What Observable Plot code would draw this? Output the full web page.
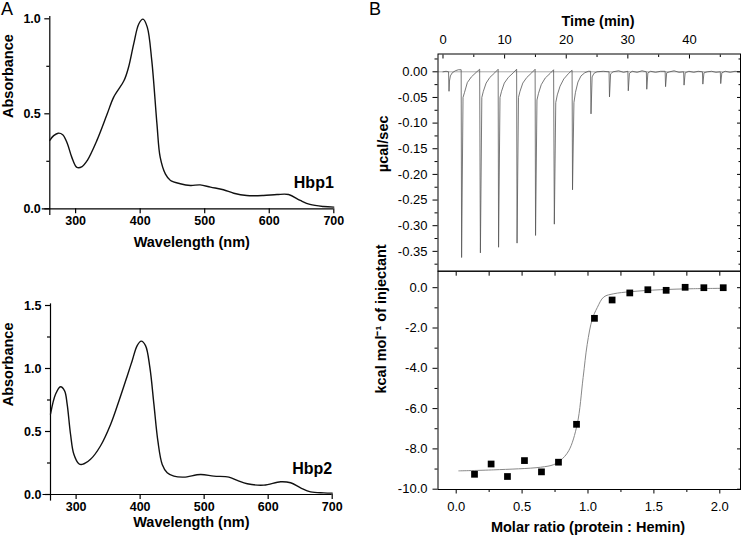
<!DOCTYPE html>
<html><head><meta charset="utf-8">
<script src="https://cdn.jsdelivr.net/npm/d3@7"></script>
<script src="https://cdn.jsdelivr.net/npm/@observablehq/plot@0.6"></script>
<style>
body{margin:0;background:#fff;}
#wrap{position:relative;width:745px;height:539px;overflow:hidden;font-family:"Liberation Sans",Arial,sans-serif;background:#fff;}
#wrap svg{position:absolute;left:0;top:0;}
.lbl{position:absolute;font-size:18px;line-height:1;font-family:"Liberation Sans",Arial,sans-serif;}
</style></head><body>
<div id="wrap"><span class="lbl" style="left:1px;top:0px">A</span><span class="lbl" style="left:369px;top:0px">B</span></div>
<script>
// ---- Panel A (top): Hbp1 absorbance spectrum ----
const hbp1Wl  = [260,266,273,280,287,294,302,310,318,333,349,359,375,382,390,398,404.5,411,418,426,431,439,447,462,478,493,509,529,545,565,591,612,630,648,663,684,700];
const hbp1Abs = [0.360,0.385,0.398,0.390,0.345,0.272,0.218,0.222,0.254,0.360,0.500,0.588,0.675,0.745,0.868,0.974,0.998,0.956,0.780,0.447,0.272,0.184,0.149,0.132,0.123,0.126,0.114,0.100,0.082,0.070,0.070,0.075,0.075,0.044,0.023,0.012,0.009];
// ---- Panel A (bottom): Hbp2 absorbance spectrum ----
const hbp2Wl  = [260,268,275.6,282,286,291.3,296.5,304.3,309.5,322.5,338,354,367,380,387.6,395.4,401.7,408.4,415.2,421.5,427.7,434.5,442.3,452.7,468.3,494.4,515.2,538.6,551.7,567.3,593.3,619.4,635,650.6,666.3,687,700];
const hbp2Abs = [0.637,0.797,0.855,0.823,0.717,0.478,0.319,0.244,0.239,0.279,0.385,0.558,0.744,0.943,1.062,1.182,1.217,1.182,1.009,0.717,0.425,0.239,0.173,0.146,0.138,0.159,0.146,0.138,0.112,0.085,0.074,0.101,0.093,0.053,0.021,0.013,0.011];

// ---- Panel B (top): raw ITC trace ----
const itcTime = [
0,0.5,0.9,0.98,1.05,1.2,1.5,2.0,2.5,2.95,
3.02,3.25,3.5,3.95,4.6,5.4,5.95,
6.07,6.3,6.55,7.0,7.6,8.4,8.95,
9.02,9.25,9.5,9.95,10.6,11.4,11.95,
12.02,12.25,12.5,12.95,13.6,14.4,14.95,
15.02,15.25,15.5,15.95,16.6,17.4,17.95,
18.07,18.3,18.55,19.0,19.6,20.4,20.95,
21.02,21.25,21.5,21.9,22.4,23.0,23.6,23.95,
24.02,24.2,24.5,25.0,26.0,26.95,
27.02,27.2,27.6,28.5,29.3,30.0,
30.07,30.25,30.7,31.5,32.3,33.0,
33.07,33.25,33.7,34.5,35.3,36.05,
36.12,36.3,36.8,37.5,38.3,39.05,
39.12,39.3,39.9,40.7,41.4,42.1,
42.17,42.35,42.9,43.6,44.3,45.0,
45.07,45.25,45.8,46.6,47.4,48.1];
const itcPower = [
0,0.001,0,-0.038,-0.018,-0.008,-0.002,0.002,0.004,0.004,
-0.362,-0.05,-0.04,-0.021,-0.010,-0.001,0.005,
-0.353,-0.05,-0.038,-0.022,-0.011,-0.002,0.005,
-0.342,-0.05,-0.038,-0.022,-0.011,-0.002,0.005,
-0.334,-0.05,-0.038,-0.022,-0.011,-0.002,0.005,
-0.319,-0.055,-0.042,-0.025,-0.012,-0.003,0.004,
-0.297,-0.06,-0.045,-0.028,-0.014,-0.003,0.003,
-0.230,-0.06,-0.04,-0.02,-0.008,-0.002,0.001,0.001,
-0.082,-0.01,-0.003,0.0,0.001,0.0,
-0.049,-0.004,0.0,0.002,-0.001,0.001,
-0.037,-0.003,0.001,-0.001,0.002,0.0,
-0.034,-0.002,0.001,-0.001,0.001,0.001,
-0.029,-0.002,0.0,0.002,-0.001,0.0,
-0.026,-0.002,0.001,-0.001,0.001,0.0,
-0.024,-0.002,0.0,0.001,-0.001,0.0,
-0.023,-0.002,0.001,-0.001,0.001,0.0];

// ---- Panel B (bottom): integrated heats and fit ----
const molarRatio = [0.139,0.265,0.389,0.518,0.647,0.776,0.913,1.049,1.183,1.317,1.454,1.593,1.737,1.879,2.026];
const heat       = [-9.26,-8.75,-9.37,-8.58,-9.14,-8.66,-6.78,-1.52,-0.61,-0.26,-0.10,-0.13,0.02,0.0,0.0];
const fitRatio = [0.02,0.285,0.64,0.74,0.79,0.854,0.918,0.963,0.994,1.032,1.07,1.12,1.196,1.32,1.55,1.80,2.03];
const fitHeat  = [-9.09,-9.04,-8.91,-8.78,-8.58,-8.09,-6.78,-4.46,-2.81,-1.57,-0.99,-0.46,-0.30,-0.20,-0.10,-0.05,-0.03];

// ---- Tick values ----
const wlTicks = [300,400,500,600,700];
const abs1Ticks = [0,0.5,1.0], abs1Minor = [0.25,0.75];
const abs2Ticks = [0,0.5,1.0,1.5], abs2Minor = [0.25,0.75,1.25];
const timeTicks = [0,10,20,30,40], timeMinor = [5,15,25,35,45];
const powerTicks = [0,-0.05,-0.10,-0.15,-0.20,-0.25,-0.30,-0.35];
const powerMinor = [0.025,-0.025,-0.075,-0.125,-0.175,-0.225,-0.275,-0.325,-0.375];
const heatTicks = [0,-2,-4,-6,-8,-10], heatMinor = [-1,-3,-5,-7,-9];
const ratioTicks = [0,0.5,1.0,1.5,2.0], ratioMinor = [0.25,0.75,1.25,1.75];

const FONT = "Liberation Sans, Arial, sans-serif";
const hbp1 = hbp1Wl.map((w,i)=>({wl:w, a:hbp1Abs[i]}));
const hbp2 = hbp2Wl.map((w,i)=>({wl:w, a:hbp2Abs[i]}));
const itc = itcTime.map((t,i)=>({t, p:itcPower[i]}));
const pts = molarRatio.map((r,i)=>({r, h:heat[i]}));
const fit = fitRatio.map((r,i)=>({r, h:fitHeat[i]}));
const noText = () => "";
const W = 745, H = 539;
const common = {width: W, height: H, style: {background: "transparent", overflow: "visible", fontFamily: FONT, color: "#000"}};
const bold = {fontWeight: "bold", fontFamily: FONT};

function spectrum({data, name, nameY, left, right, top, bottom, yDomain, yTicks, yMinor, yAxisTop, xPad, titleDy, absDx, absDy}) {
  return Plot.plot({
    ...common,
    marginLeft: left, marginRight: W - right, marginTop: top, marginBottom: H - bottom,
    x: {domain: [260, 700]},
    y: {domain: yDomain},
    marks: [
      Plot.ruleY([0], {x1: 248.3, x2: 700, stroke: "#000", strokeWidth: 1.2}),
      Plot.ruleX([260], {y1: -0.035 * yDomain[1], y2: yAxisTop, stroke: "#000", strokeWidth: 1.2}),
      Plot.axisX(wlTicks, {tickSize: 5, tickPadding: xPad, fontSize: 12.5, ...bold, strokeWidth: 1.2, label: null}),
      Plot.axisY(yTicks, {tickSize: 5, tickPadding: 4, tickFormat: d => d.toFixed(1), fontSize: 12.5, ...bold, strokeWidth: 1.2, label: null}),
      Plot.axisY(yMinor, {tickSize: 3, tickFormat: noText, strokeWidth: 1.2, label: null}),
      Plot.line(data, {x: "wl", y: "a", curve: "catmull-rom", stroke: "#111", strokeWidth: 1.4}),
      Plot.text([name], {text: d => d, x: 700, y: nameY, textAnchor: "end", fontSize: 16, ...bold}),
      Plot.text(["Wavelength (nm)"], {text: d => d, frameAnchor: "bottom", dy: titleDy, fontSize: 14.5, ...bold}),
      Plot.text(["Absorbance"], {text: d => d, frameAnchor: "left", dx: absDx, dy: absDy, rotate: -90, fontSize: 14.5, ...bold})
    ]
  });
}

const A1 = spectrum({data: hbp1, name: "Hbp1", nameY: 0.136, left: 49.3, right: 333.3, top: 18.3, bottom: 208.3,
  yDomain: [0, 1], yTicks: abs1Ticks, yMinor: abs1Minor, yAxisTop: 1.012, xPad: 2, titleDy: 38, absDx: -41, absDy: 4.2});
const A2 = spectrum({data: hbp2, name: "Hbp2", nameY: 0.204, left: 50, right: 331.7, top: 305, bottom: 494,
  yDomain: [0, 1.5], yTicks: abs2Ticks, yMinor: abs2Minor, yAxisTop: 1.513, xPad: 2.5, titleDy: 32, absDx: -41.7, absDy: 6.3});

const B1 = Plot.plot({
  ...common,
  marginLeft: 437.5, marginRight: W - 740, marginTop: 53.5, marginBottom: H - 270.7,
  x: {domain: [-0.81, 48.28]},
  y: {domain: [-0.3887, 0.0347]},
  marks: [
    Plot.ruleY([0], {stroke: "#aaa", strokeWidth: 1}),
    Plot.line(itc, {x: "t", y: "p", stroke: "#555", strokeWidth: 0.8}),
    Plot.frame({stroke: "#000", strokeWidth: 1}),
    Plot.axisX(timeTicks, {anchor: "top", tickSize: 0, tickPadding: 10, fontSize: 13, fontFamily: FONT, label: null}),
    Plot.axisX(timeTicks, {anchor: "top", tickSize: 4, dy: 4, tickFormat: noText, label: null}),
    Plot.axisX(timeMinor, {anchor: "top", tickSize: 2.5, dy: 2.5, tickFormat: noText, label: null}),
    Plot.axisY(powerTicks, {tickSize: 5, tickPadding: 5.5, tickFormat: d => d.toFixed(2), fontSize: 13, fontFamily: FONT, label: null}),
    Plot.axisY(powerMinor, {tickSize: 3, tickFormat: noText, label: null}),
    Plot.axisY(powerTicks, {anchor: "right", tickSize: 4, dx: -4, tickFormat: noText, label: null}),
    Plot.axisY(powerMinor, {anchor: "right", tickSize: 2.5, dx: -2.5, tickFormat: noText, label: null}),
    Plot.text(["Time (min)"], {text: d => d, frameAnchor: "top", dx: 8.75, dy: -38.5, fontSize: 14.5, ...bold}),
    Plot.text(["µcal/sec"], {text: d => d, frameAnchor: "left", dx: -54.5, dy: 9.6, rotate: -90, fontSize: 14.5, ...bold})
  ]
});

const B2 = Plot.plot({
  ...common,
  marginLeft: 437.5, marginRight: W - 740, marginTop: 270.7, marginBottom: H - 489,
  x: {domain: [-0.138, 2.157]},
  y: {domain: [-10.015, 0.819]},
  marks: [
    Plot.line(fit, {x: "r", y: "h", curve: "catmull-rom", stroke: "#888", strokeWidth: 1}),
    Plot.dot(pts, {x: "r", y: "h", symbol: "square", r: 3.8, fill: "#000", stroke: "none"}),
    Plot.frame({stroke: "#000", strokeWidth: 1}),
    Plot.axisX(ratioTicks, {tickSize: 4.5, tickPadding: 7.5, tickFormat: d => d.toFixed(1), fontSize: 13, fontFamily: FONT, label: null}),
    Plot.axisX(ratioMinor, {tickSize: 3, tickFormat: noText, label: null}),
    Plot.axisX(ratioTicks.concat(ratioMinor), {anchor: "top", tickSize: 4, dy: 4, tickFormat: noText, label: null}),
    Plot.axisY(heatTicks, {tickSize: 5, tickPadding: 5.5, tickFormat: d => d.toFixed(1), fontSize: 13, fontFamily: FONT, label: null}),
    Plot.axisY(heatMinor, {tickSize: 3, tickFormat: noText, label: null}),
    Plot.axisY(heatTicks, {anchor: "right", tickSize: 4, dx: -4, tickFormat: noText, label: null}),
    Plot.axisY(heatMinor, {anchor: "right", tickSize: 2.5, dx: -2.5, tickFormat: noText, label: null}),
    Plot.text(["kcal mol⁻¹ of injectant"], {text: d => d, frameAnchor: "left", dx: -56.5, dy: 13.2, rotate: -90, fontSize: 14.5, ...bold}),
    Plot.text(["Molar ratio (protein : Hemin)"], {text: d => d, frameAnchor: "bottom", dx: -1.25, dy: 42, fontSize: 14.5, ...bold})
  ]
});

const wrap = document.getElementById("wrap");
for (const p of [A1, A2, B1, B2]) wrap.appendChild(p);
</script>
</body></html>
